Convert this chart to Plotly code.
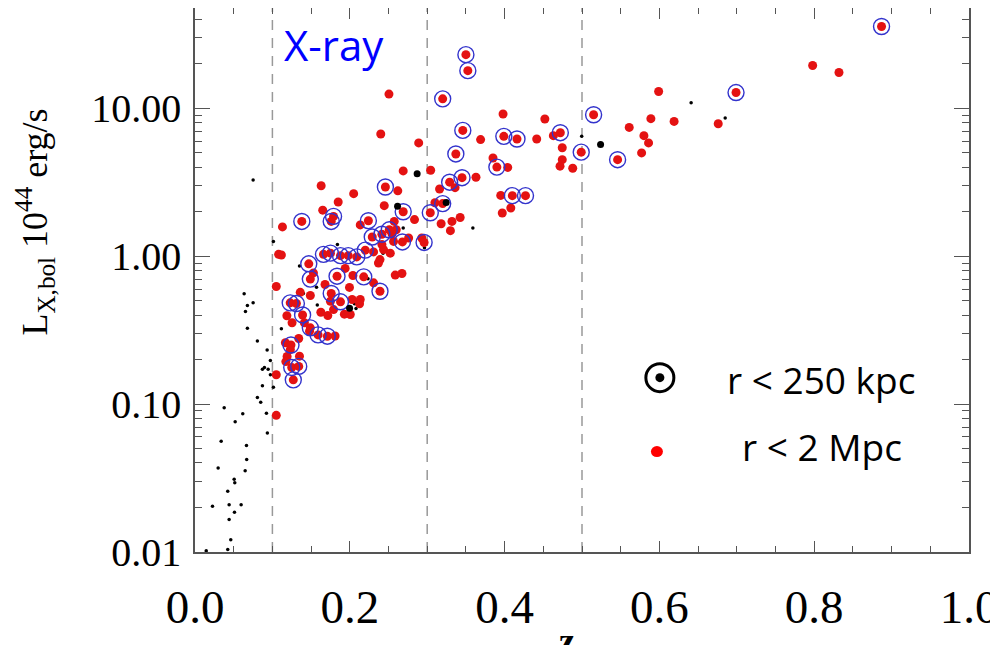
import plotly.graph_objects as go

# ---- data ----
# clusters measured within r < 250 kpc (ringed points) - also have r < 2 Mpc values (red)
ring_z = [0.887, 0.699, 0.515, 0.350, 0.3525, 0.320, 0.346, 0.399, 0.416, 0.472,
          0.499, 0.546, 0.337, 0.390, 0.329, 0.345, 0.410, 0.427, 0.320, 0.304,
          0.246, 0.269, 0.179, 0.176, 0.138, 0.224, 0.229, 0.2415, 0.251, 0.268,
          0.296, 0.166, 0.175, 0.188, 0.198, 0.209, 0.220, 0.147, 0.149, 0.1835,
          0.218, 0.239, 0.176, 0.188, 0.123, 0.131, 0.139, 0.149, 0.159, 0.171,
          0.124, 0.125, 0.134, 0.127]
ring_L = [35.8, 12.8, 9.06, 23.1, 18.0, 11.6, 7.10, 6.47, 6.21, 6.85,
          5.06, 4.50, 4.92, 4.01, 3.17, 3.40, 2.57, 2.57, 2.27, 1.97,
          2.94, 2.00, 1.86, 1.72, 1.72, 1.74, 1.35, 1.41, 1.51, 1.25,
          1.24, 1.03, 1.05, 1.01, 1.01, 0.99, 1.10, 0.889, 0.701, 0.733,
          0.726, 0.580, 0.560, 0.492, 0.484, 0.479, 0.401, 0.328, 0.294, 0.288,
          0.251, 0.177, 0.180, 0.146]

# r < 2 Mpc only (red dots without ring)
red_z = [0.798, 0.832, 0.599, 0.589, 0.619, 0.676, 0.561, 0.580, 0.586, 0.577,
         0.398, 0.452, 0.369, 0.4415, 0.463, 0.4745, 0.4745, 0.4716, 0.488, 0.385,
         0.404, 0.363, 0.316, 0.3045, 0.395, 0.408, 0.397, 0.318, 0.330, 0.332,
         0.3426, 0.336, 0.2506, 0.240, 0.289, 0.269, 0.163, 0.205, 0.262, 0.185,
         0.2445, 0.165, 0.113, 0.2135, 0.2574, 0.2836, 0.310, 0.260, 0.2545, 0.276,
         0.2565, 0.293, 0.108, 0.1116, 0.2307, 0.2436, 0.2523, 0.2415, 0.239, 0.237,
         0.2587, 0.2674, 0.194, 0.153, 0.2307, 0.204, 0.168, 0.1996, 0.136, 0.105,
         0.149, 0.175, 0.203, 0.2135, 0.2126, 0.179, 0.2006, 0.1187, 0.1254, 0.1413,
         0.148, 0.1626, 0.1716, 0.193, 0.181, 0.134, 0.1168, 0.1232, 0.119, 0.1174,
         0.135, 0.105, 0.105]
red_L = [19.5, 17.5, 13.0, 8.52, 8.17, 7.88, 7.44, 6.54, 5.84, 5.00,
         9.17, 8.48, 6.15, 6.21, 6.54, 5.42, 4.50, 4.07, 3.94, 4.62,
         3.99, 3.42, 2.85, 3.82, 2.58, 2.12, 1.96, 1.66, 1.49, 1.72,
         1.83, 2.91, 12.5, 6.71, 5.84, 3.78, 3.00, 2.65, 2.77, 2.33,
         2.20, 2.05, 1.58, 1.63, 1.72, 1.77, 2.30, 1.51, 1.42, 1.33,
         1.26, 1.33, 1.03, 1.02, 1.07, 1.11, 1.05, 1.20, 0.95, 0.90,
         0.746, 0.764, 0.828, 0.772, 0.661, 0.741, 0.644, 0.616, 0.570, 0.624,
         0.543, 0.496, 0.510, 0.510, 0.477, 0.436, 0.404, 0.396, 0.355, 0.355,
         0.311, 0.418, 0.397, 0.406, 0.289, 0.278, 0.260, 0.234, 0.210, 0.194,
         0.211, 0.158, 0.084]

# small black points (comparison sample)
blk_z = [0.0635, 0.0677, 0.0751, 0.0652, 0.0677, 0.0806, 0.0932, 0.0974, 0.0871, 0.0897,
         0.0945, 0.0974, 0.1013, 0.0871, 0.0806, 0.0849, 0.0923, 0.0377, 0.0617, 0.0519,
         0.0935, 0.0338, 0.0665, 0.0668, 0.0299, 0.0648, 0.0506, 0.0514, 0.0423, 0.0226,
         0.0441, 0.0596, 0.0510, 0.0441, 0.0462, 0.0423, 0.0145, 0.0751, 0.1013, 0.184,
         0.135, 0.157, 0.1116, 0.158, 0.206, 0.208, 0.140, 0.641, 0.685, 0.359,
         0.269, 0.2965, 0.243, 0.2235, 0.4996]
blk_L = [0.557, 0.464, 0.484, 0.423, 0.326, 0.267, 0.232, 0.197, 0.172, 0.177,
         0.172, 0.158, 0.130, 0.133, 0.111, 0.103, 0.0869, 0.0946, 0.0861, 0.0760,
         0.0637, 0.0560, 0.0526, 0.0423, 0.0370, 0.0355, 0.0310, 0.0294, 0.0258, 0.0204,
         0.0209, 0.0209, 0.0186, 0.0166, 0.0121, 0.0104, 0.0102, 3.28, 1.26, 1.20,
         0.859, 0.617, 0.323, 0.468, 0.477, 0.443, 0.560, 10.9, 8.61, 1.55,
         1.55, 1.14, 1.05, 0.704, 6.47]

# larger black points
bigblk_z = [0.287, 0.524, 0.1997, 0.2617, 0.3245]
bigblk_L = [3.62, 5.69, 0.445, 2.18, 2.31]

x_tickvals = [0.0, 0.2, 0.4, 0.6, 0.8, 1.0]
x_ticktext = ["0.0", "0.2", "0.4", "0.6", "0.8", "1.0"]
y_tickvals = [0.01, 0.1, 1, 10]
y_ticktext = ["0.01", "0.10", "1.00", "10.00"]
dashed_z = [0.1, 0.3, 0.5]

SERIF = "Liberation Serif, Times New Roman, serif"
SANS = "Open Sans, Liberation Sans, sans-serif"
AX = "#555555"

fig = go.Figure()
fig.add_trace(go.Scatter(x=blk_z, y=blk_L, mode="markers",
                         marker=dict(color="black", size=3.5, line=dict(width=0))))
fig.add_trace(go.Scatter(x=red_z + ring_z, y=red_L + ring_L, mode="markers",
                         marker=dict(color="#e41212", size=9, line=dict(width=0))))
fig.add_trace(go.Scatter(x=ring_z, y=ring_L, mode="markers",
                         marker=dict(symbol="circle-open", size=16, color="#3333cc",
                                     line=dict(width=1.4, color="#3333cc"))))
fig.add_trace(go.Scatter(x=bigblk_z, y=bigblk_L, mode="markers",
                         marker=dict(color="black", size=7, line=dict(width=0))))

minor_y = [m * 10 ** e for e in range(-2, 2) for m in range(2, 10)]

fig.update_xaxes(range=[0, 1], tickvals=x_tickvals, ticktext=x_ticktext,
                 ticks="inside", ticklen=11, tickwidth=1.3, tickcolor=AX,
                 showline=True, linecolor=AX, linewidth=1.6, mirror="allticks",
                 showgrid=False, zeroline=False, automargin=False,
                 ticklabeloverflow="allow",
                 minor=dict(dtick=0.05, tick0=0, ticks="inside", ticklen=6,
                            tickwidth=1.2, tickcolor=AX, showgrid=False),
                 tickfont=dict(family=SERIF, size=47, color="black"),
                 ticklabelstandoff=13)
fig.update_yaxes(type="log", range=[-2, 1.679], tickvals=y_tickvals, ticktext=y_ticktext,
                 ticks="inside", ticklen=15, tickwidth=1.3, tickcolor=AX,
                 showline=True, linecolor=AX, linewidth=1.6, mirror="allticks",
                 showgrid=False, zeroline=False, automargin=False,
                 ticklabeloverflow="allow",
                 minor=dict(tickvals=minor_y, ticks="inside", ticklen=7,
                            tickwidth=1.2, tickcolor=AX, showgrid=False),
                 tickfont=dict(family=SERIF, size=40, color="black"),
                 ticklabelstandoff=4)

shapes = []
for zv in dashed_z:
    shapes.append(dict(type="line", xref="x", yref="paper", x0=zv, x1=zv, y0=0, y1=1,
                       line=dict(color="#999999", width=1.5, dash="10px,8px"), layer="below"))
# legend glyphs
shapes.append(dict(type="circle", xref="paper", yref="paper", xsizemode="pixel", ysizemode="pixel",
                   xanchor=0.6006, yanchor=0.3205, x0=-14, x1=14, y0=-14, y1=14,
                   line=dict(color="black", width=3)))
shapes.append(dict(type="circle", xref="paper", yref="paper", xsizemode="pixel", ysizemode="pixel",
                   xanchor=0.6006, yanchor=0.3205, x0=-4.5, x1=4.5, y0=-4.5, y1=4.5,
                   fillcolor="black", line=dict(color="black", width=0)))
shapes.append(dict(type="circle", xref="paper", yref="paper", xsizemode="pixel", ysizemode="pixel",
                   xanchor=0.5968, yanchor=0.1846, x0=-6, x1=6, y0=-5.5, y1=5.5,
                   fillcolor="#ff0000", line=dict(color="#ff0000", width=0)))

annotations = [
    dict(text="X-ray", xref="paper", yref="paper", x=0.180, y=0.932, showarrow=False,
         xanchor="center", yanchor="middle", font=dict(family=SANS, size=42, color="#0000ff")),
    dict(text="r &lt; 250 kpc", xref="paper", yref="paper", x=0.6845, y=0.3168, showarrow=False,
         xanchor="left", yanchor="middle", font=dict(family=SANS, size=37, color="black")),
    dict(text="r &lt; 2 Mpc", xref="paper", yref="paper", x=0.7039, y=0.1938, showarrow=False,
         xanchor="left", yanchor="middle", font=dict(family=SANS, size=37, color="black")),
    dict(text="L<sub>X,bol</sub> 10<sup>44</sup> erg/s", xref="paper", yref="paper",
         x=-0.207, y=0.607, showarrow=False, textangle=-90, xanchor="center", yanchor="middle",
         font=dict(family=SERIF, size=36, color="black")),
    dict(text="<b>z</b>", xref="paper", yref="paper", x=0.4806, y=-0.124, showarrow=False,
         xanchor="center", yanchor="top", font=dict(family=SERIF, size=36, color="black")),
]

# page body has an 8px margin: the figure is sized so the whole page fits the window
fig.update_layout(width=982, height=637, margin=dict(l=186.5, r=20.5, t=0, b=92.5, autoexpand=False),
                  plot_bgcolor="white", paper_bgcolor="white", showlegend=False,
                  shapes=shapes, annotations=annotations)

fig.write_html("out.html")
